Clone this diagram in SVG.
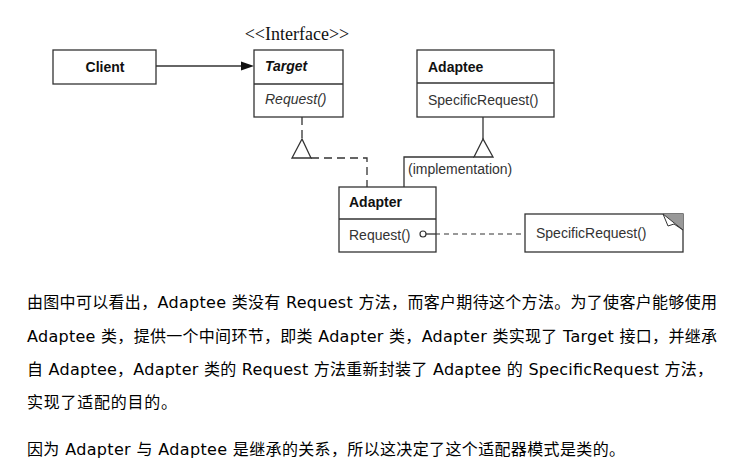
<svg xmlns="http://www.w3.org/2000/svg" width="750" height="469" viewBox="0 0 750 469">
<style>
.box{fill:#fff;stroke:#333;stroke-width:1.3}
.ln{fill:none;stroke:#333;stroke-width:1.3}
.dash{fill:none;stroke:#333;stroke-width:1.3;stroke-dasharray:8 5}
.dash2{fill:none;stroke:#333;stroke-width:1.2;stroke-dasharray:5 4}
.b{font-family:"Liberation Sans",Arial,sans-serif;font-weight:bold;font-size:14px;fill:#111}
.r{font-family:"Liberation Sans",Arial,sans-serif;font-size:14px;fill:#333}
.i{font-style:italic}
.body{font-family:"DejaVu Sans","Noto Sans CJK SC",sans-serif;font-size:16px;fill:#000}
</style>
<rect width="750" height="469" fill="#fff"/>

<g id="connectors">
  <line class="ln" x1="156" y1="66" x2="242" y2="66"/>
  <polygon points="241,61.5 254,66 241,70.5" fill="#111"/>
  <path class="dash" d="M302,117 V139"/>
  <polygon points="302,139 292,158 311,158" fill="#fff" stroke="#333" stroke-width="1.3"/>
  <path class="dash" d="M311,158 H367 V187"/>
  <path class="ln" d="M483,117 V139"/>
  <polygon points="483,139 474,157 493,157" fill="#fff" stroke="#333" stroke-width="1.3"/>
  <path class="ln" d="M474,157 H404 V187"/>
  <text class="r" x="408" y="174" font-size="13.5">(implementation)</text>
  <line class="dash2" x1="426" y1="234" x2="525" y2="234"/>
</g>

<g id="client">
  <rect class="box" x="53" y="50" width="103" height="34"/>
  <text class="b" x="105" y="72" text-anchor="middle">Client</text>
</g>

<g id="target">
  <text x="297" y="40" text-anchor="middle" font-family="Liberation Serif,'Times New Roman',serif" font-size="18" fill="#111">&lt;&lt;Interface&gt;&gt;</text>
  <rect class="box" x="254" y="50" width="89" height="67"/>
  <line class="ln" x1="254" y1="84" x2="343" y2="84"/>
  <text class="b i" x="265" y="71">Target</text>
  <text class="r i" x="265" y="104">Request()</text>
</g>

<g id="adaptee">
  <rect class="box" x="417" y="50" width="137" height="67"/>
  <line class="ln" x1="417" y1="83" x2="554" y2="83"/>
  <text class="b" x="428" y="72">Adaptee</text>
  <text class="r" x="428" y="105">SpecificRequest()</text>
</g>

<g id="adapter">
  <rect class="box" x="339" y="187" width="97" height="65"/>
  <line class="ln" x1="339" y1="219" x2="436" y2="219"/>
  <text class="b" x="349" y="207">Adapter</text>
  <text class="r" x="349" y="240">Request()</text>
  <line class="ln" x1="426" y1="234" x2="436" y2="234" stroke-width="1.2"/>
  <circle cx="423" cy="234" r="3" fill="#fff" stroke="#333" stroke-width="1.2"/>
</g>

<g id="note">
  <rect class="box" x="525" y="214" width="158" height="38"/>
  <polygon points="663,214 683,214 683,230" fill="#999"/>
  <polygon points="663,214 668,226 674,224 683,230" fill="#fff" stroke="#333" stroke-width="1"/>
  <text class="r" x="536" y="238">SpecificRequest()</text>
</g>

<g id="text">
  <text class="body" x="27" y="308" textLength="690" lengthAdjust="spacing">由图中可以看出，Adaptee 类没有 Request 方法，而客户期待这个方法。为了使客户能够使用</text>
  <text class="body" x="27" y="342" textLength="690" lengthAdjust="spacing">Adaptee 类，提供一个中间环节，即类 Adapter 类，Adapter 类实现了 Target 接口，并继承</text>
  <text class="body" x="27" y="375" textLength="686" lengthAdjust="spacing">自 Adaptee，Adapter 类的 Request 方法重新封装了 Adaptee 的 SpecificRequest 方法，</text>
  <text class="body" x="27" y="408" textLength="150" lengthAdjust="spacing">实现了适配的目的。</text>
  <text class="body" x="27" y="455" textLength="598" lengthAdjust="spacing">因为 Adapter 与 Adaptee 是继承的关系，所以这决定了这个适配器模式是类的。</text>
</g>
</svg>
